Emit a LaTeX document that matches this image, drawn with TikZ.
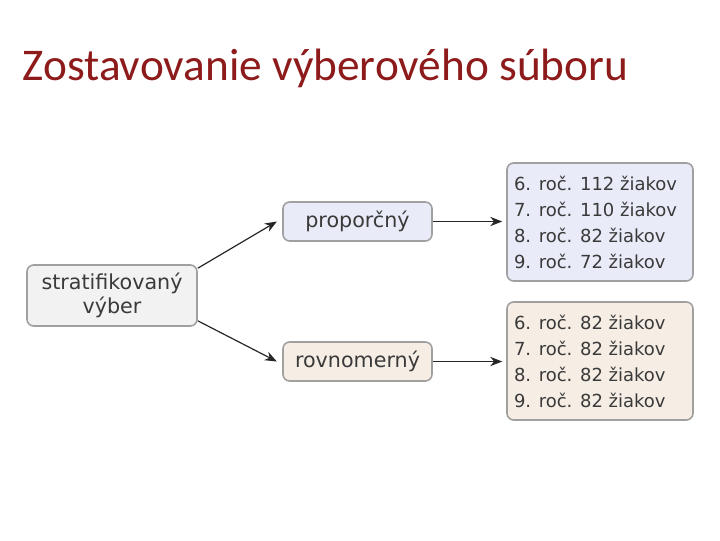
\documentclass[tikz,border=0pt]{standalone}
\usepackage{fontspec}
\setmainfont{DejaVu Sans}
\newfontfamily\titlefont{Carlito}
\usetikzlibrary{arrows.meta}
\definecolor{bluefill}{HTML}{E9ECF8}
\definecolor{beigefill}{HTML}{F6EEE5}
\definecolor{grayfill}{HTML}{F2F2F2}
\definecolor{boxline}{HTML}{A0A0A0}
\definecolor{txt}{HTML}{3A3A3A}
\definecolor{titlered}{HTML}{8E1B1B}
\begin{document}
\begin{tikzpicture}[x=0.75pt,y=-0.75pt,
  box/.style={draw=boxline,line width=1.2pt,rounded corners=5pt,inner sep=0pt,text=txt,font=\fontsize{15.5}{18}\selectfont},
  list/.style={box,minimum width=139.5pt,minimum height=88.5pt,align=flush left,text width=129pt,font=\fontsize{13.5}{19.5}\selectfont},
  conn/.style={-{Stealth[length=9pt,width=7pt]},line width=0.9pt,draw=black!85}]
\useasboundingbox (0,0) rectangle (720,540);
\node[anchor=base west,text=titlered,font=\titlefont\fontsize{34}{38}\selectfont] (title) at (18,80) {Zostavovanie výberového súboru};
\node[box,fill=grayfill,minimum width=127.5pt,minimum height=45.75pt,align=center] (s) at (112,295.5) {stratifikovaný\\výber};
\node[box,fill=bluefill,minimum width=111.75pt,minimum height=29.25pt] (p) at (357.5,221.5) {proporčný};
\node[box,fill=beigefill,minimum width=111.75pt,minimum height=29.25pt] (r) at (357.5,361.5) {rovnomerný};
\node[list,fill=bluefill] (b1) at (600,222) {6. roč. 112 žiakov\\7. roč. 110 žiakov\\8. roč. 82 žiakov\\9. roč. 72 žiakov};
\node[list,fill=beigefill] (b2) at (600,361) {6. roč. 82 žiakov\\7. roč. 82 žiakov\\8. roč. 82 žiakov\\9. roč. 82 žiakov};
\draw[conn] (s.north east) ++(0,4) -- ([xshift=-4]p.west);
\draw[conn] (s.south east) ++(0,-6) -- ([xshift=-4]r.west);
\draw[conn] (p.east) -- ([xshift=-3]p.east -| b1.west);
\draw[conn] (r.east) -- ([xshift=-3]r.east -| b2.west);
\end{tikzpicture}
\end{document}
